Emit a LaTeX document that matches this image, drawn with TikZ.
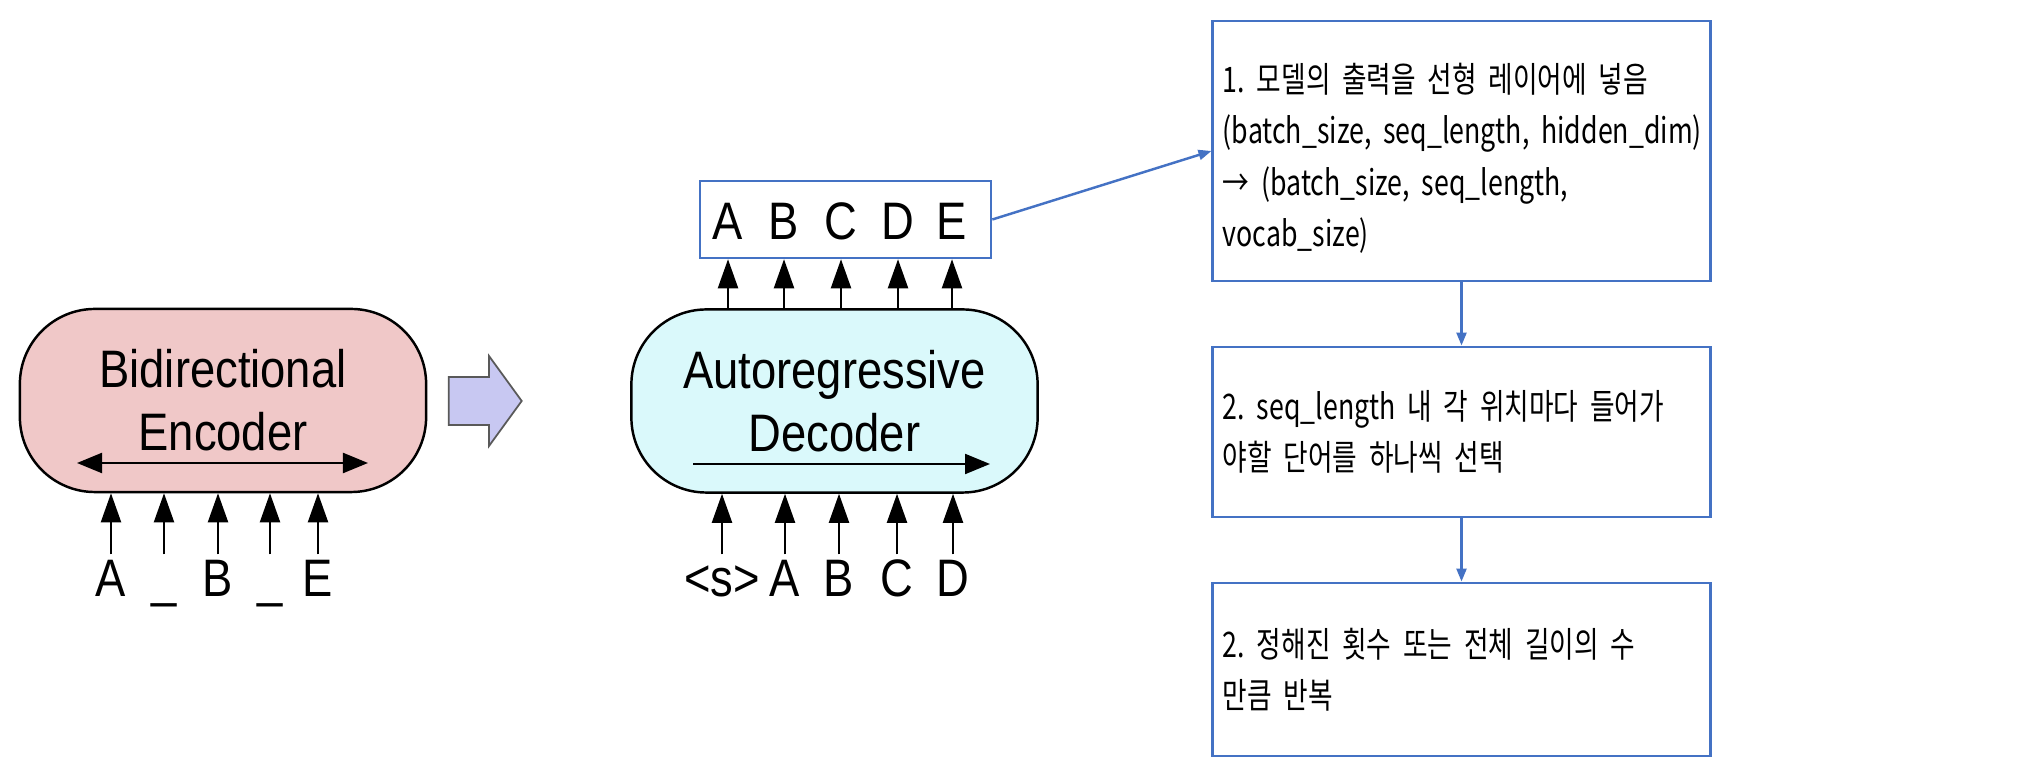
\documentclass[tikz,border=0pt]{standalone}
\usepackage{fontspec}
\setmainfont{Liberation Sans}[FakeStretch=0.86]
\newfontfamily\krfont{Noto Sans CJK KR}[FakeStretch=0.76]
\usetikzlibrary{arrows.meta,shapes.arrows}
\definecolor{encFill}{RGB}{240,200,200}
\definecolor{decFill}{RGB}{218,249,251}
\definecolor{arrowFill}{RGB}{200,200,242}
\definecolor{taskBlue}{RGB}{68,114,196}
\hyphenpenalty=10000
\frenchspacing
\tikzstyle{block} = [draw=black, line width=0.7pt, rounded corners=0.75cm, minimum width=4.06cm, minimum height=1.83cm, align=center, font=\fontsize{15}{18}\selectfont]
\tikzstyle{enc block} = [block, fill=encFill]
\tikzstyle{dec block} = [block, fill=decFill]
\tikzstyle{token} = [anchor=base, inner sep=0.04cm, text height=0.38cm, text depth=0pt, font=\fontsize{15}{18}\selectfont]
\tikzstyle{tok arrow} = [draw, line width=0.6pt, -{Triangle[length=0.29cm, width=0.2cm]}]
\tikzstyle{flow arrow} = [draw, line width=0.6pt, -{Triangle[length=0.25cm, width=0.2cm]}]
\tikzstyle{both arrow} = [draw, line width=0.6pt, {Triangle[length=0.25cm, width=0.2cm]}-{Triangle[length=0.25cm, width=0.2cm]}]
\tikzstyle{big arrow} = [single arrow, draw=black!65, fill=arrowFill, line width=0.5pt, minimum height=0.73cm, inner xsep=0pt, inner ysep=0.23cm, single arrow head extend=0.21cm, single arrow tip angle=108]
\tikzstyle{out box} = [draw=taskBlue, line width=0.7pt, minimum width=2.91cm, minimum height=0.77cm]
\tikzstyle{task box} = [draw=taskBlue, line width=0.8pt, minimum width=4.97cm, text width=4.77cm, inner xsep=0.1cm, align=left, font=\krfont\fontsize{10}{14.6}\selectfont]
\tikzstyle{task arrow} = [draw=taskBlue, line width=0.7pt, -{Triangle[length=0.13cm, width=0.1cm]}]
\def\encInputs{{111/e1/A}, {164/e2/\_}, {218/e3/B}, {270/e4/\_}, {318/e5/E}}
\def\decInputs{{722/d1/<s>}, {785/d2/A}, {839/d3/B}, {897/d4/C}, {953/d5/D}}
\def\decOutputs{{728/o1/A}, {784/o2/B}, {841/o3/C}, {898/o4/D}, {952/o5/E}}

\begin{document}
\begin{tikzpicture}[x=0.01cm, y=-0.01cm]

  \useasboundingbox (0,0) rectangle (2040,780);

  \node[enc block] (enc) at (223, 400.5) {Bidirectional\\Encoder};
  \node[dec block] (dec) at (834.5, 401) {Autoregressive\\Decoder};
  \node[big arrow] (pass) at (476.5, 401) {};

  \coordinate (encL) at (77, 463);
  \coordinate (encR) at (368, 463);
  \coordinate (decL) at (693, 464);
  \coordinate (decR) at (990, 464);
  \path[both arrow] (encL) -- (encR);
  \path[flow arrow] (decL) -- (decR);

  \foreach \x/\name/\txt in \encInputs {
    \node[token] (\name) at (\x, 597) {\txt};
    \path[tok arrow] (\name.north) -- (\name.north |- enc.south);
    }

  \foreach \x/\name/\txt in \decInputs {
    \node[token] (\name) at (\x, 597) {\txt};
    \path[tok arrow] (\name.north) -- (\name.north |- dec.south);
    }

  \node[out box] (out) at (845.5, 219.5) {};
  \foreach \x/\name/\txt in \decOutputs {
    \node[token] (\name) at (\x, 240) {\txt};
    \path[tok arrow] (\name |- dec.north) -- (\name |- out.south);
    }

  \node[task box, minimum height=2.6cm] (task1) at (1461.5, 151) {\rule{0pt}{12.5pt}1. 모델의 출력을 선형 레이어에 넣음\\(batch\_size,~seq\_length,~hidden\_dim)\\→ (batch\_size, seq\_length,\\vocab\_size)};
  \node[task box, minimum height=1.7cm] (task2) at (1461.5, 432) {2. seq\_length 내 각 위치마다 들어가\\야할 단어를 하나씩 선택};
  \node[task box, minimum height=1.73cm] (task3) at (1461.5, 669.5) {2. 정해진 횟수 또는 전체 길이의 수\\만큼 반복};

  \path[task arrow] (out.east) -- (task1.west);
  \path[task arrow] (task1) -- (task2);
  \path[task arrow] (task2) -- (task3);

\end{tikzpicture}
\end{document}
